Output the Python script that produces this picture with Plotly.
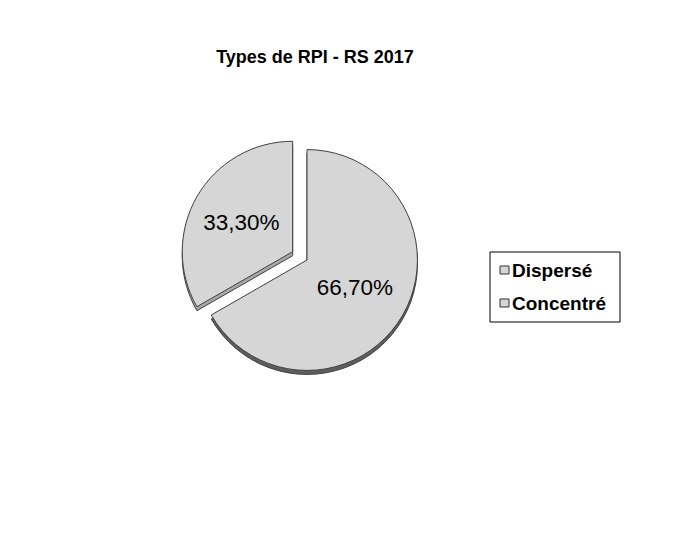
import plotly.graph_objects as go

labels = ["Dispersé", "Concentré"]
values = [66.7, 33.3]
pulls = [0, 0.15]

texts = [f"{v:.2f}%".replace(".", ",") for v in values]

W, H = 677, 534
OFF = 8  # page body margin offset
cx, cy = 299 / W, 282 / H
hw, hh = 127 / W, 127 / H
shadow_dy = 4 / H


def px(x):
    return (x - OFF) / W


def py(y):
    return 1 - (y - OFF) / H


fig = go.Figure()
# 3D rim/shadow trace
fig.add_trace(go.Pie(
    labels=labels, values=values, pull=pulls, sort=False, direction="clockwise",
    rotation=0, textinfo="none", showlegend=False, hoverinfo="skip",
    marker=dict(colors=["#5e5e5e", "#a8a8a8"], line=dict(color="#404040", width=1)),
    domain=dict(x=[cx - hw, cx + hw], y=[cy - hh - shadow_dy, cy + hh - shadow_dy]),
))
fig.add_trace(go.Pie(
    labels=labels, values=values, pull=pulls, sort=False, direction="clockwise",
    rotation=0, text=texts, textinfo="text", textposition="inside",
    insidetextorientation="horizontal", showlegend=False,
    textfont=dict(family="Arial, Liberation Sans", size=22.5, color="black"),
    marker=dict(colors=["#d6d6d6", "#d6d6d6"], line=dict(color="#404040", width=1)),
    domain=dict(x=[cx - hw, cx + hw], y=[cy - hh, cy + hh]),
))

# Custom legend (box, swatches, labels)
shapes = [dict(type="rect", xref="paper", yref="paper",
               x0=px(490), x1=px(620), y0=py(322), y1=py(252),
               line=dict(color="black", width=1), fillcolor="white", layer="below")]
annotations = []
row_y = [270, 303]
for lab, ry in zip(labels, row_y):
    shapes.append(dict(type="rect", xref="paper", yref="paper",
                       x0=px(500), x1=px(509), y0=py(ry + 4), y1=py(ry - 4),
                       line=dict(color="#303030", width=1), fillcolor="#d6d6d6",
                       layer="above"))
    annotations.append(dict(text=f"<b>{lab}</b>", xref="paper", yref="paper",
                            x=px(511), y=py(ry), xanchor="left", yanchor="middle",
                            showarrow=False, borderpad=0,
                            font=dict(family="Arial, Liberation Sans", size=19, color="black")))

fig.update_layout(
    width=W, height=H,
    paper_bgcolor="white", plot_bgcolor="white",
    margin=dict(l=0, r=0, t=0, b=0),
    title=dict(text="<b>Types de RPI - RS 2017</b>", x=px(315), xanchor="center",
               xref="paper", yref="container",
               y=1 - 49 / H, yanchor="middle",
               font=dict(family="Arial, Liberation Sans", size=18, color="black")),
    shapes=shapes,
    annotations=annotations,
    showlegend=False,
)

fig.write_html("out.html")
